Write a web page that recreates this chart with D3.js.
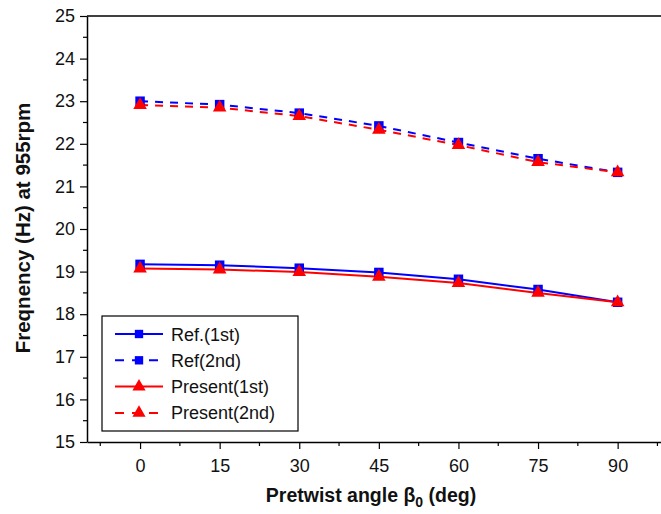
<!DOCTYPE html>
<html><head><meta charset="utf-8">
<script src="https://cdn.jsdelivr.net/npm/d3@7"></script>
<style>body{margin:0;background:#fff}svg{display:block}text{font-family:"Liberation Sans",Arial,sans-serif}</style>
</head><body>
<svg id="c" width="661" height="514"></svg>
<script>
const angles = [0, 15, 30, 45, 60, 75, 90];
const ref1 = [19.17, 19.15, 19.08, 18.98, 18.82, 18.58, 18.28];
const ref2 = [23.00, 22.92, 22.72, 22.42, 22.03, 21.65, 21.33];
const pres1 = [19.07, 19.05, 18.99, 18.88, 18.73, 18.50, 18.28];
const pres2 = [22.91, 22.85, 22.65, 22.33, 21.97, 21.57, 21.33];
const xTicks = [0, 15, 30, 45, 60, 75, 90];
const yTicks = [15, 16, 17, 18, 19, 20, 21, 22, 23, 24, 25];
const seriesNames = ["Ref.(1st)", "Ref(2nd)", "Present(1st)", "Present(2nd)"];

const svg = d3.select("#c");
const x = d3.scaleLinear().domain([-10, 100]).range([87, 670.7]);
const y = d3.scaleLinear().domain([15, 25]).range([442, 16]);

const series = [
  {name: seriesNames[0], vals: ref1, color: "#0000ff", dash: null, sym: d3.symbolSquare},
  {name: seriesNames[1], vals: ref2, color: "#0000ff", dash: "8,7", sym: d3.symbolSquare},
  {name: seriesNames[2], vals: pres1, color: "#ff0000", dash: null, sym: d3.symbolTriangle},
  {name: seriesNames[3], vals: pres2, color: "#ff0000", dash: "8,7", sym: d3.symbolTriangle}
];

// axes
const minorX = d3.range(-7.5, 100, 15);
const minorY = d3.range(15.5, 25, 1);
const gx = svg.append("g").attr("transform", "translate(0,442)");
gx.call(d3.axisBottom(x).tickValues(xTicks).tickSize(7).tickPadding(10).tickSizeOuter(0));
gx.append("g").selectAll("line").data(minorX).join("line")
  .attr("x1", d => x(d)).attr("x2", d => x(d)).attr("y1", 0).attr("y2", 4).attr("stroke", "#000").attr("stroke-width", 1.2);
const gy = svg.append("g").attr("transform", "translate(87,0)");
gy.call(d3.axisLeft(y).tickValues(yTicks).tickSize(7).tickPadding(5).tickSizeOuter(0));
gy.append("g").selectAll("line").data(minorY).join("line")
  .attr("y1", d => y(d)).attr("y2", d => y(d)).attr("x1", 0).attr("x2", -4).attr("stroke", "#000").attr("stroke-width", 1.2);
[gx, gy].forEach(g => {
  g.selectAll(".domain").attr("stroke", "#000").attr("stroke-width", 1.5);
  g.selectAll(".tick line").attr("stroke", "#000").attr("stroke-width", 1.2);
  g.selectAll("text").attr("font-size", 18).attr("fill", "#111").style("font-family", "'Liberation Sans',Arial,sans-serif");
});
// top border
svg.append("line").attr("x1", 87).attr("x2", 661).attr("y1", 16).attr("y2", 16).attr("stroke", "#000").attr("stroke-width", 1.5);

// lines and markers
const line = d3.line().x((d, i) => x(angles[i])).y(d => y(d));
series.forEach(s => {
  svg.append("path").datum(s.vals).attr("d", line).attr("fill", "none")
    .attr("stroke", s.color).attr("stroke-width", 2).attr("stroke-dasharray", s.dash);
});
series.forEach(s => {
  const size = s.sym === d3.symbolSquare ? 90 : 80;
  svg.append("g").selectAll("path").data(s.vals).join("path")
    .attr("transform", (d, i) => `translate(${x(angles[i])},${y(d)})`)
    .attr("d", d3.symbol().type(s.sym).size(size)).attr("fill", s.color);
});

// legend
const lg = svg.append("g");
lg.append("rect").attr("x", 102).attr("y", 316).attr("width", 196).attr("height", 115)
  .attr("fill", "#fff").attr("stroke", "#000").attr("stroke-width", 1.2);
series.forEach((s, i) => {
  const yy = 334 + i * 26.3;
  lg.append("line").attr("x1", 115).attr("x2", 163).attr("y1", yy).attr("y2", yy)
    .attr("stroke", s.color).attr("stroke-width", 2).attr("stroke-dasharray", s.dash ? "9,8" : null);
  lg.append("path").attr("transform", `translate(139,${yy})`)
    .attr("d", d3.symbol().type(s.sym).size(s.sym === d3.symbolSquare ? 70 : 75)).attr("fill", s.color);
  lg.append("text").attr("x", 171).attr("y", yy + 6.5).attr("font-size", 18).attr("fill", "#111").text(s.name);
});

// axis titles
const xt = svg.append("text").attr("x", 371).attr("y", 502).attr("text-anchor", "middle")
  .attr("font-size", 19.5).attr("font-weight", "bold").attr("fill", "#111");
xt.append("tspan").text("Pretwist angle β");
xt.append("tspan").attr("font-size", 14).attr("dy", 5).text("0");
xt.append("tspan").attr("dy", -5).text(" (deg)");
svg.append("text").attr("transform", "translate(30,228) rotate(-90)").attr("text-anchor", "middle")
  .attr("font-size", 20.5).attr("font-weight", "bold").attr("fill", "#111").text("Freqnency (Hz) at 955rpm");
</script>
</body></html>
